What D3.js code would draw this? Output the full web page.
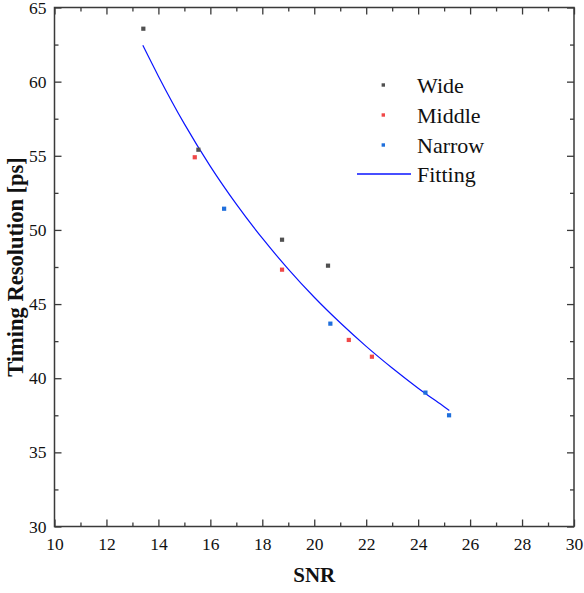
<!DOCTYPE html>
<html>
<head>
<meta charset="utf-8">
<script src="https://cdn.jsdelivr.net/npm/d3@7"></script>
<style>
  html, body { margin: 0; padding: 0; background: #fff; }
  svg { display: block; }
  svg text { font-family: "Liberation Serif", "Times New Roman", Times, serif !important; fill: #111; }
</style>
</head>
<body>
<svg id="chart" width="584" height="593"></svg>
<script>
// ---- data ----
const wideSNR   = [13.42, 15.54, 18.76, 20.53];
const wideRes   = [63.57, 55.41, 49.34, 47.59];
const middleSNR = [15.40, 18.76, 21.33, 22.22];
const middleRes = [54.90, 47.32, 42.58, 41.45];
const narrowSNR = [16.53, 20.62, 24.28, 25.19];
const narrowRes = [51.43, 43.68, 39.03, 37.50];
const fitSNR = [13.4, 14, 15, 16, 17, 18, 19, 20, 21, 22, 23, 24, 25, 25.2];
const fitRes = [62.45, 60.37, 57.15, 54.29, 51.74, 49.44, 47.36, 45.46, 43.74, 42.15, 40.69, 39.33, 38.08, 37.83];
const xMajorTicks = [10, 12, 14, 16, 18, 20, 22, 24, 26, 28, 30];
const xMinorTicks = [11, 13, 15, 17, 19, 21, 23, 25, 27, 29];
const yMajorTicks = [30, 35, 40, 45, 50, 55, 60, 65];
const yMinorTicks = [32.5, 37.5, 42.5, 47.5, 52.5, 57.5, 62.5];
const seriesNames = ["Wide", "Middle", "Narrow"];
const legendFitName = "Fitting";
const xTitle = "SNR";
const yTitle = "Timing Resolution [ps]";

const seriesColors = ["#505050", "#f04848", "#1f6fdc"];
const fitColor = "#0a14ff";
const axisColor = "#3a3a3a";
const SERIF = '"Liberation Serif", "Times New Roman", Times, serif';

const svg = d3.select("#chart");
const L = 54.5, R = 574, T = 7.5, B = 526.5;

const x = d3.scaleLinear().domain([10, 30]).range([L, R]);
const y = d3.scaleLinear().domain([30, 65]).range([B, T]);

function styleAxis(g) {
  g.attr("font-family", SERIF).attr("font-size", 17.5);
  g.select(".domain").remove();
  g.selectAll(".tick line").attr("stroke", axisColor).attr("stroke-width", 1.3);
  g.selectAll(".tick text").attr("font-family", SERIF).attr("font-size", 17.5).attr("fill", "#111");
}

// bottom
svg.append("g").attr("transform", `translate(0,${B})`)
  .call(d3.axisBottom(x).tickValues(xMajorTicks).tickSize(-7).tickPadding(11).tickFormat(d3.format("d")))
  .call(styleAxis);
svg.append("g").attr("transform", `translate(0,${B})`)
  .call(d3.axisBottom(x).tickValues(xMinorTicks).tickSize(-4).tickFormat(""))
  .call(styleAxis);
// top
svg.append("g").attr("transform", `translate(0,${T})`)
  .call(d3.axisTop(x).tickValues(xMajorTicks).tickSize(-7).tickFormat(""))
  .call(styleAxis);
svg.append("g").attr("transform", `translate(0,${T})`)
  .call(d3.axisTop(x).tickValues(xMinorTicks).tickSize(-4).tickFormat(""))
  .call(styleAxis);
// left
svg.append("g").attr("transform", `translate(${L},0)`)
  .call(d3.axisLeft(y).tickValues(yMajorTicks).tickSize(-7).tickPadding(8).tickFormat(d3.format("d")))
  .call(styleAxis);
svg.append("g").attr("transform", `translate(${L},0)`)
  .call(d3.axisLeft(y).tickValues(yMinorTicks).tickSize(-4).tickFormat(""))
  .call(styleAxis);
// right
svg.append("g").attr("transform", `translate(${R},0)`)
  .call(d3.axisRight(y).tickValues(yMajorTicks).tickSize(-7).tickFormat(""))
  .call(styleAxis);
svg.append("g").attr("transform", `translate(${R},0)`)
  .call(d3.axisRight(y).tickValues(yMinorTicks).tickSize(-4).tickFormat(""))
  .call(styleAxis);

// frame
svg.append("rect").attr("x", L).attr("y", T).attr("width", R - L).attr("height", B - T)
  .attr("fill", "none").attr("stroke", axisColor).attr("stroke-width", 1.5);

// fitting curve
const fitData = fitSNR.map((v, i) => [v, fitRes[i]]);
svg.append("path").datum(fitData)
  .attr("fill", "none").attr("stroke", fitColor).attr("stroke-width", 1.2)
  .attr("d", d3.line().x(d => x(d[0])).y(d => y(d[1])).curve(d3.curveMonotoneX));

// points
const series = [[wideSNR, wideRes], [middleSNR, middleRes], [narrowSNR, narrowRes]];
const ms = 4.2;
series.forEach(([xs, ys], si) => {
  svg.append("g").selectAll("rect").data(xs.map((v, i) => [v, ys[i]])).join("rect")
    .attr("x", d => x(d[0]) - ms / 2).attr("y", d => y(d[1]) - ms / 2)
    .attr("width", ms).attr("height", ms).attr("fill", seriesColors[si]);
});

// legend
const legY = [85, 115, 145];
const lg = svg.append("g").attr("font-family", SERIF);
seriesNames.forEach((n, i) => {
  lg.append("rect").attr("x", 383.3 - 1.7).attr("y", legY[i] - 1.7)
    .attr("width", 3.4).attr("height", 3.4).attr("fill", seriesColors[i]);
  lg.append("text").attr("x", 417).attr("y", legY[i]).attr("dy", "0.35em")
    .attr("font-size", 22).text(n);
});
lg.append("line").attr("x1", 357).attr("x2", 411).attr("y1", 174).attr("y2", 174)
  .attr("stroke", fitColor).attr("stroke-width", 1.3);
lg.append("text").attr("x", 417).attr("y", 174).attr("dy", "0.35em")
  .attr("font-size", 22).text(legendFitName);

// titles
svg.append("text").attr("x", (L + R) / 2).attr("y", 582).attr("text-anchor", "middle")
  .attr("font-family", SERIF).attr("font-size", 21).attr("font-weight", "bold").text(xTitle);
svg.append("text").attr("transform", `translate(23,${(T + B) / 2}) rotate(-90)`)
  .attr("text-anchor", "middle")
  .attr("font-family", SERIF).attr("font-size", 22.5).attr("font-weight", "bold").text(yTitle);
</script>
</body>
</html>
